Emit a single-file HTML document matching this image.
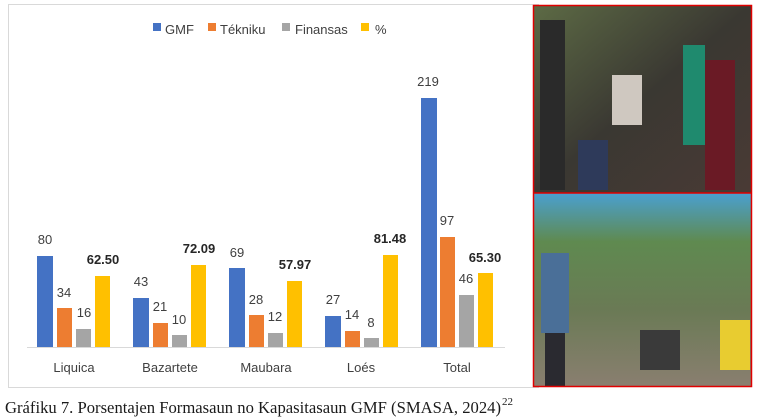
<!DOCTYPE html>
<html><head><meta charset="utf-8"><style>
html,body{margin:0;padding:0;background:#fff;}
svg{display:block;}
</style></head><body>
<svg width="758" height="419" viewBox="0 0 758 419" xmlns="http://www.w3.org/2000/svg">
<rect x="8.5" y="4.5" width="530" height="383" fill="#fff" stroke="#d9d9d9"/>
<g font-family="Liberation Sans, DejaVu Sans, sans-serif" font-size="13" fill="#404040">
<rect x="153" y="23" width="8" height="8" fill="#4472c4"/><text x="165" y="34">GMF</text>
<rect x="208" y="23" width="8" height="8" fill="#ed7d31"/><text x="220" y="34">Tékniku</text>
<rect x="282" y="23" width="8" height="8" fill="#a5a5a5"/><text x="295" y="34">Finansas</text>
<rect x="361" y="23" width="8" height="8" fill="#ffc000"/><text x="375" y="34">%</text>
</g>
<line x1="27" y1="347.5" x2="505" y2="347.5" stroke="#d9d9d9"/>
<g>
<rect x="37" y="256" width="16" height="91" fill="#4472c4"/>
<rect x="57" y="308" width="15" height="39" fill="#ed7d31"/>
<rect x="76" y="329" width="15" height="18" fill="#a5a5a5"/>
<rect x="95" y="276" width="15" height="71" fill="#ffc000"/>
<rect x="133" y="298" width="16" height="49" fill="#4472c4"/>
<rect x="153" y="323" width="15" height="24" fill="#ed7d31"/>
<rect x="172" y="335" width="15" height="12" fill="#a5a5a5"/>
<rect x="191" y="265" width="15" height="82" fill="#ffc000"/>
<rect x="229" y="268" width="16" height="79" fill="#4472c4"/>
<rect x="249" y="315" width="15" height="32" fill="#ed7d31"/>
<rect x="268" y="333" width="15" height="14" fill="#a5a5a5"/>
<rect x="287" y="281" width="15" height="66" fill="#ffc000"/>
<rect x="325" y="316" width="16" height="31" fill="#4472c4"/>
<rect x="345" y="331" width="15" height="16" fill="#ed7d31"/>
<rect x="364" y="338" width="15" height="9" fill="#a5a5a5"/>
<rect x="383" y="255" width="15" height="92" fill="#ffc000"/>
<rect x="421" y="98" width="16" height="249" fill="#4472c4"/>
<rect x="440" y="237" width="15" height="110" fill="#ed7d31"/>
<rect x="459" y="295" width="15" height="52" fill="#a5a5a5"/>
<rect x="478" y="273" width="15" height="74" fill="#ffc000"/>
</g>
<g font-family="Liberation Sans, DejaVu Sans, sans-serif" font-size="13" fill="#404040" text-anchor="middle">
<text x="45" y="244">80</text><text x="64" y="297">34</text><text x="84" y="317">16</text>
<text x="141" y="286">43</text><text x="160" y="311">21</text><text x="179" y="324">10</text>
<text x="237" y="257">69</text><text x="256" y="304">28</text><text x="275" y="321">12</text>
<text x="333" y="304">27</text><text x="352" y="319">14</text><text x="371" y="327">8</text>
<text x="428" y="86">219</text><text x="447" y="225">97</text><text x="466" y="283">46</text>
</g>
<g font-family="Liberation Sans, DejaVu Sans, sans-serif" font-size="13" font-weight="bold" fill="#262626" text-anchor="middle">
<text x="103" y="264">62.50</text><text x="199" y="253">72.09</text><text x="295" y="269">57.97</text>
<text x="390" y="243">81.48</text><text x="485" y="262">65.30</text>
</g>
<g font-family="Liberation Sans, DejaVu Sans, sans-serif" font-size="13" fill="#404040" text-anchor="middle">
<text x="74" y="372">Liquica</text><text x="170" y="372">Bazartete</text><text x="266" y="372">Maubara</text>
<text x="361" y="372">Loés</text><text x="457" y="372">Total</text>
</g>
<defs>
<linearGradient id="p1" x1="0" y1="0" x2="1" y2="1">
<stop offset="0" stop-color="#5d6b45"/><stop offset="0.5" stop-color="#3a3832"/><stop offset="1" stop-color="#4a3a35"/>
</linearGradient>
<linearGradient id="p2" x1="0" y1="0" x2="0" y2="1">
<stop offset="0" stop-color="#4aa0d0"/><stop offset="0.25" stop-color="#5f8a50"/><stop offset="0.6" stop-color="#6a7a55"/><stop offset="1" stop-color="#8a7f70"/>
</linearGradient>
</defs>
<rect x="533" y="5" width="219" height="188" fill="url(#p1)"/>
<rect x="540" y="20" width="25" height="170" fill="#2a2a2a"/>
<rect x="578" y="140" width="30" height="50" fill="#2e3a5a"/>
<rect x="683" y="45" width="22" height="100" fill="#1f8a6e"/>
<rect x="705" y="60" width="30" height="130" fill="#6a1a25"/>
<rect x="612" y="75" width="30" height="50" fill="#cfc8c0"/>
<rect x="533" y="193" width="219" height="194" fill="url(#p2)"/>
<rect x="541" y="253" width="28" height="80" fill="#4a6f98"/>
<rect x="545" y="333" width="20" height="54" fill="#2a2a30"/>
<rect x="720" y="320" width="30" height="50" fill="#e8cc30"/>
<rect x="640" y="330" width="40" height="40" fill="#3a3a3a"/>
<rect x="533.5" y="5.5" width="218" height="381" fill="none" stroke="#e00000" stroke-width="1.5"/>
<line x1="533" y1="193" x2="752" y2="193" stroke="#e00000" stroke-width="1.5"/>
<text x="5" y="413" font-family="Liberation Serif, DejaVu Serif, serif" font-size="17" fill="#1a1a1a" textLength="496" lengthAdjust="spacingAndGlyphs">Gráfiku 7. Porsentajen Formasaun no Kapasitasaun GMF (SMASA, 2024)</text>
<text x="502" y="405" font-family="Liberation Serif, DejaVu Serif, serif" font-size="11" fill="#1a1a1a">22</text>
</svg>
</body></html>
